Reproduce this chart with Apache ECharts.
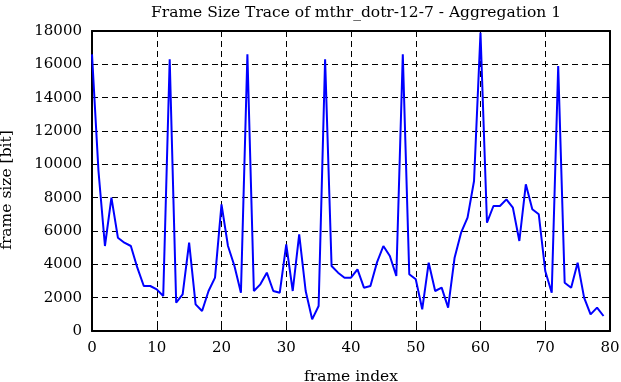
<!DOCTYPE html>
<html>
<head>
<meta charset="utf-8">
<script src="https://cdn.jsdelivr.net/npm/echarts@6/dist/echarts.min.js"></script>
<style>
html,body{margin:0;padding:0;background:#fff;}
#chart{width:621px;height:382px;}
</style>
</head>
<body>
<div id="chart"></div>
<script>
var titleText = 'Frame Size Trace of mthr_dotr-12-7 - Aggregation 1';
var xName = 'frame index';
var yName = 'frame size [bit]';
var frameIndex = [];
for (var i = 0; i < 80; i++) frameIndex.push(i);
var frameSize = [
  16600, 9600, 5100, 8000, 5600, 5300, 5100, 3800, 2700, 2700,
  2500, 2100, 16300, 1700, 2200, 5300, 1600, 1200, 2400, 3200,
  7600, 5100, 3900, 2300, 16600, 2400, 2800, 3500, 2400, 2300,
  5200, 2400, 5800, 2400, 700, 1500, 16300, 3900, 3500, 3200,
  3200, 3700, 2600, 2700, 4100, 5100, 4500, 3300, 16600, 3400,
  3100, 1300, 4100, 2400, 2600, 1400, 4400, 5900, 6800, 9000,
  17900, 6500, 7500, 7500, 7900, 7400, 5400, 8800, 7300, 7000,
  3600, 2300, 15900, 2900, 2600, 4100, 2000, 1000, 1400, 900
];
var seriesData = frameIndex.map(function (x, k) { return [x, frameSize[k]]; });

var font = 'DejaVu Serif';
var chart = echarts.init(document.getElementById('chart'), null, {renderer: 'canvas'});
var axisLineStyle = {color: '#000', width: 2};
var tickStyle = {show: true, inside: true, length: 6, lineStyle: {color: '#000', width: 1}};
var gridStyle = {show: true, lineStyle: {color: '#000', width: 1, type: [6, 4]}};
var plain = function (v) { return String(v); };
chart.setOption({
  animation: false,
  backgroundColor: '#fff',
  title: {
    text: titleText,
    left: 351, top: 0, textAlign: 'center',
    textStyle: {fontFamily: font, fontSize: 15.5, fontWeight: 'normal', color: '#000'}
  },
  grid: {left: 92, right: 11, top: 31, bottom: 51, containLabel: false, outerBoundsMode: 'none'},
  xAxis: [{
    type: 'value', min: 0, max: 80, interval: 10,
    name: xName, nameLocation: 'middle', nameGap: 38,
    nameTextStyle: {fontFamily: font, fontSize: 15.5, color: '#000'},
    axisLine: {show: true, onZero: false, lineStyle: axisLineStyle},
    axisTick: tickStyle,
    axisLabel: {fontFamily: font, fontSize: 15, color: '#000', margin: 10, formatter: plain},
    splitLine: gridStyle
  }, {
    type: 'value', min: 0, max: 80, interval: 10, position: 'top',
    axisLine: {show: true, onZero: false, lineStyle: axisLineStyle},
    axisTick: tickStyle, axisLabel: {show: false}, splitLine: {show: false}
  }],
  yAxis: [{
    type: 'value', min: 0, max: 18000, interval: 2000,
    name: yName, nameLocation: 'middle', nameGap: 77,
    nameTextStyle: {fontFamily: font, fontSize: 15.5, color: '#000', padding: [0, 18, 0, 0]},
    axisLine: {show: true, onZero: false, lineStyle: axisLineStyle},
    axisTick: tickStyle,
    axisLabel: {fontFamily: font, fontSize: 15, color: '#000', margin: 10, formatter: plain, padding: [4, 0, 0, 0]},
    splitLine: gridStyle
  }, {
    type: 'value', min: 0, max: 18000, interval: 2000, position: 'right',
    axisLine: {show: true, onZero: false, lineStyle: axisLineStyle},
    axisTick: tickStyle, axisLabel: {show: false}, splitLine: {show: false}
  }],
  series: [{
    type: 'line',
    data: seriesData,
    showSymbol: false,
    symbol: 'none',
    lineStyle: {color: '#0000ff', width: 2},
    clip: true
  }]
});
</script>
</body>
</html>
